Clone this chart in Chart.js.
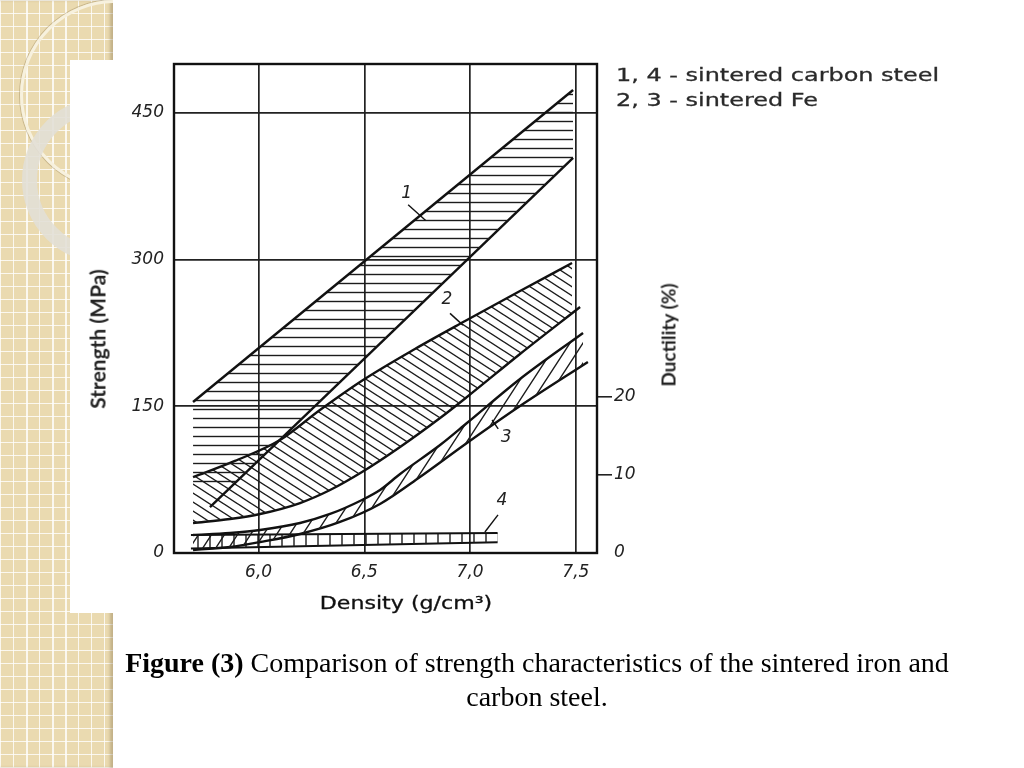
<!DOCTYPE html>
<html>
<head>
<meta charset="utf-8">
<script src="https://cdn.jsdelivr.net/npm/chart.js@4.4.1/dist/chart.umd.min.js"></script>
<style>
    body { margin: 0; background: #fff; }
    #slide { position: relative; width: 1024px; height: 768px; overflow: hidden; background: #fff; }
    .strip {
        position: absolute; left: 0; top: 0; width: 113px; height: 768px; overflow: hidden;
        background-color: #eadab0;
        background-image:
            repeating-linear-gradient(90deg, rgba(255,255,255,.8) 0 1.5px, transparent 1.5px 13px),
            repeating-linear-gradient(0deg, rgba(255,255,255,.8) 0 1.5px, transparent 1.5px 13px);
        box-shadow: inset -3px 0 3px rgba(120,100,60,.35);
    }
    .ring1 { position: absolute; left: 20px; top: 0; width: 184px; height: 184px; border-radius: 50%;
        border: 3px solid #f7f1de; box-shadow: 0 0 0 1px rgba(160,140,95,.45); }
    .ring2 { position: absolute; left: 22px; top: 97px; width: 136px; height: 136px; border-radius: 50%;
        border: 15px solid rgba(226,223,214,.9); }
    .panel { position: absolute; left: 70px; top: 60px; width: 954px; height: 553px; background: #fff; }
    #wrap { position: absolute; left: 0; top: 0; width: 1024px; height: 768px; }
    .txt { position: absolute; white-space: nowrap; }
    .vtitle { font: bold 19px Lato, sans-serif; color: #222; transform: translate(-50%, -50%) rotate(-90deg); }
    #xtitle { left: 406px; top: 603px; font: 17px "DejaVu Sans", sans-serif; color: #111;
        -webkit-text-stroke: 0.3px #111; transform: translate(-50%, -50%) scaleX(1.3); }
    .legende { left: 616px; font: 18px "DejaVu Sans", sans-serif; color: #2a2a2a; line-height: 25px;
        -webkit-text-stroke: 0.3px #2a2a2a; transform: scaleX(1.33); transform-origin: left center; }
    #caption { position: absolute; left: 100px; top: 646px; width: 874px; text-align: center;
        font: 28px "Liberation Serif", "Times New Roman", serif; line-height: 34px; color: #000; }
</style>
</head>
<body>
<div id="slide">
    <div class="strip"><div class="ring1"></div><div class="ring2"></div></div>
    <div class="panel"></div>
    <div id="wrap"><canvas id="chart"></canvas></div>
    <div class="txt vtitle" style="left:97px; top:339px; font-size:21px;">Strength (MPa)</div>
    <div class="txt vtitle" style="left:668px; top:335px;">Ductility (%)</div>
    <div class="txt" id="xtitle">Density (g/cm³)</div>
    <div class="txt legende" style="top:62px;">1, 4 - sintered carbon steel</div>
    <div class="txt legende" style="top:87px;">2, 3 - sintered Fe</div>
    <div id="caption"><b>Figure (3)</b> Comparison of strength characteristics of the sintered iron and<br>carbon steel.</div>
</div>
<script>
// Graduations des axes
const xTicks = [6.0, 6.5, 7.0, 7.5];
const yTicks = [0, 150, 300, 450];
const ductTicks = [0, 10, 20];

// Bande 1 - acier au carbone fritté (résistance), hachures horizontales
const band1TopX = [5.69, 7.487];
const band1TopY = [154.4, 473.4];
const band1EdgeX = [5.69, 5.865, 7.487];
const band1EdgeY = [66.7, 66.7, 403.9];
const band1LowX = [5.77, 7.487];
const band1LowY = [47.0, 403.9];

// Bande 2 - Fe fritté (résistance)
const band2TopX = [5.69, 5.888, 6.101, 6.29, 6.494, 6.739, 6.985, 7.236, 7.482];
const band2TopY = [77.5, 94.1, 115.5, 146.2, 176.9, 208.6, 238.2, 267.9, 296.5];
const band2LowX = [5.69, 5.865, 6.007, 6.196, 6.338, 6.489, 6.669, 6.858, 6.985, 7.236, 7.52];
const band2LowY = [30.7, 34.8, 39.9, 51.1, 64.4, 82.8, 108.4, 138.0, 159.5, 203.5, 251.5];

// Bande 3 - Fe fritté (ductilité)
const band3TopX = [5.69, 5.865, 6.007, 6.196, 6.338, 6.489, 6.574, 6.669, 6.858, 6.985, 7.236, 7.534];
const band3TopY = [18.4, 20.5, 23.5, 30.7, 39.9, 54.2, 64.4, 80.8, 110.4, 132.9, 177.9, 225.0];
const band3LowX = [5.69, 5.865, 6.007, 6.196, 6.385, 6.574, 6.763, 6.985, 7.236, 7.557];
const band3LowY = [3.1, 6.1, 11.2, 19.4, 31.7, 50.1, 77.7, 112.5, 150.3, 195.3];

// Bande 4 - acier au carbone fritté (ductilité)
const band4TopX = [5.68, 7.13];
const band4TopY = [18.4, 20.5];
const band4LowX = [5.68, 7.13];
const band4LowY = [4.5, 11.0];

// Repères 1-4 avec leur petit trait
const curveNotes = [
    { text: '1', at: [6.70, 368], from: [6.707, 356], to: [6.79, 340] },
    { text: '2', at: [6.89, 259], from: [6.905, 245], to: [6.966, 233] },
    { text: '3', at: [7.17, 118], from: [7.133, 127], to: [7.104, 136] },
    { text: '4', at: [7.15, 54], from: [7.132, 39], to: [7.07, 21.5] }
];

function toPoints(xs, ys) {
    return xs.map((x, i) => ({ x: x, y: ys[i] }));
}

function makeHatch(w, h, segments) {
    const c = document.createElement('canvas');
    c.width = w;
    c.height = h;
    const g = c.getContext('2d');
    g.strokeStyle = '#1c1c1c';
    g.lineWidth = 1.4;
    g.beginPath();
    segments.forEach(s => { g.moveTo(s[0], s[1]); g.lineTo(s[2], s[3]); });
    g.stroke();
    return g.createPattern(c, 'repeat');
}

const hatchHoriz = makeHatch(8, 9, [[0, 4.5, 8, 4.5]]);
const hatchDiag = makeHatch(14, 9, [[0, 0, 14, 9], [0, -9, 28, 9], [-14, 0, 14, 18]]);
const hatchSteep = makeHatch(13, 20, [[0, 20, 13, 0], [-13, 20, 13, -20], [0, 40, 26, 0]]);
const hatchBox = makeHatch(12, 4, [[6, 0, 6, 4]]);

function curve(xs, ys, extra) {
    return Object.assign({
        data: toPoints(xs, ys),
        borderColor: '#111',
        borderWidth: 2.4,
        pointRadius: 0,
        fill: false,
        cubicInterpolationMode: 'monotone'
    }, extra || {});
}

const framePlugin = {
    id: 'cadre',
    beforeDatasetsDraw(chart) {
        const a = chart.chartArea;
        const c = chart.ctx;
        c.save();
        c.strokeStyle = '#111';
        c.lineWidth = 2.4;
        c.strokeRect(a.left, a.top, a.right - a.left, a.bottom - a.top);
        c.restore();
    }
};

const notesPlugin = {
    id: 'reperes',
    afterDatasetsDraw(chart) {
        const xs = chart.scales.x, ys = chart.scales.y;
        const c = chart.ctx;
        c.save();
        c.strokeStyle = '#111';
        c.lineWidth = 1.4;
        c.fillStyle = '#222';
        c.font = 'italic 17px "DejaVu Sans"';
        c.textAlign = 'center';
        c.textBaseline = 'middle';
        curveNotes.forEach(n => {
            c.beginPath();
            c.moveTo(xs.getPixelForValue(n.from[0]), ys.getPixelForValue(n.from[1]));
            c.lineTo(xs.getPixelForValue(n.to[0]), ys.getPixelForValue(n.to[1]));
            c.stroke();
            c.fillText(n.text, xs.getPixelForValue(n.at[0]), ys.getPixelForValue(n.at[1]));
        });
        c.restore();
    }
};

const tickFont = { family: 'DejaVu Sans', style: 'italic', size: 17 };

new Chart(document.getElementById('chart').getContext('2d'), {
    type: 'line',
    data: {
        datasets: [
            curve(band1TopX, band1TopY, { fill: '+1', backgroundColor: hatchHoriz, cubicInterpolationMode: 'default' }),
            curve(band1EdgeX, band1EdgeY, { borderColor: 'rgba(0,0,0,0)', borderWidth: 0, cubicInterpolationMode: 'default' }),
            curve(band1LowX, band1LowY, { cubicInterpolationMode: 'default' }),
            curve(band2TopX, band2TopY, { fill: '+1', backgroundColor: hatchDiag }),
            curve(band2LowX, band2LowY),
            curve(band3TopX, band3TopY, { fill: '+1', backgroundColor: hatchSteep }),
            curve(band3LowX, band3LowY),
            curve(band4TopX, band4TopY, { fill: '+1', backgroundColor: hatchBox, borderWidth: 2, cubicInterpolationMode: 'default' }),
            curve(band4LowX, band4LowY, { borderWidth: 2, cubicInterpolationMode: 'default' })
        ]
    },
    options: {
        responsive: true,
        maintainAspectRatio: false,
        animation: false,
        layout: { padding: { left: 100, right: 347, top: 64, bottom: 175 } },
        plugins: { legend: { display: false }, tooltip: { enabled: false } },
        scales: {
            x: {
                type: 'linear',
                min: 5.6,
                max: 7.6,
                afterBuildTicks: s => { s.ticks = xTicks.map(v => ({ value: v })); },
                afterFit: s => { s.height = 40; },
                ticks: {
                    font: tickFont, color: '#222', padding: 9, maxRotation: 0,
                    callback: v => v.toFixed(1).replace('.', ',')
                },
                grid: { color: '#222', lineWidth: 1.7, drawTicks: false },
                border: { display: false }
            },
            y: {
                min: 0,
                max: 500,
                afterBuildTicks: s => { s.ticks = yTicks.map(v => ({ value: v })); },
                afterFit: s => { s.width = 74; },
                ticks: { font: tickFont, color: '#222', padding: 10 },
                grid: { color: '#222', lineWidth: 1.7, drawTicks: false },
                border: { display: false }
            },
            y2: {
                position: 'right',
                min: 0,
                max: 62.7,
                afterBuildTicks: s => { s.ticks = ductTicks.map(v => ({ value: v })); },
                afterFit: s => { s.width = 80; },
                ticks: { font: tickFont, color: '#222', padding: 2 },
                grid: {
                    drawOnChartArea: false,
                    tickLength: 15,
                    lineWidth: 1.6,
                    color: c => (c.tick && c.tick.value === 0) ? 'rgba(0,0,0,0)' : '#222'
                },
                border: { display: false }
            }
        }
    },
    plugins: [framePlugin, notesPlugin]
});
</script>
</body>
</html>
